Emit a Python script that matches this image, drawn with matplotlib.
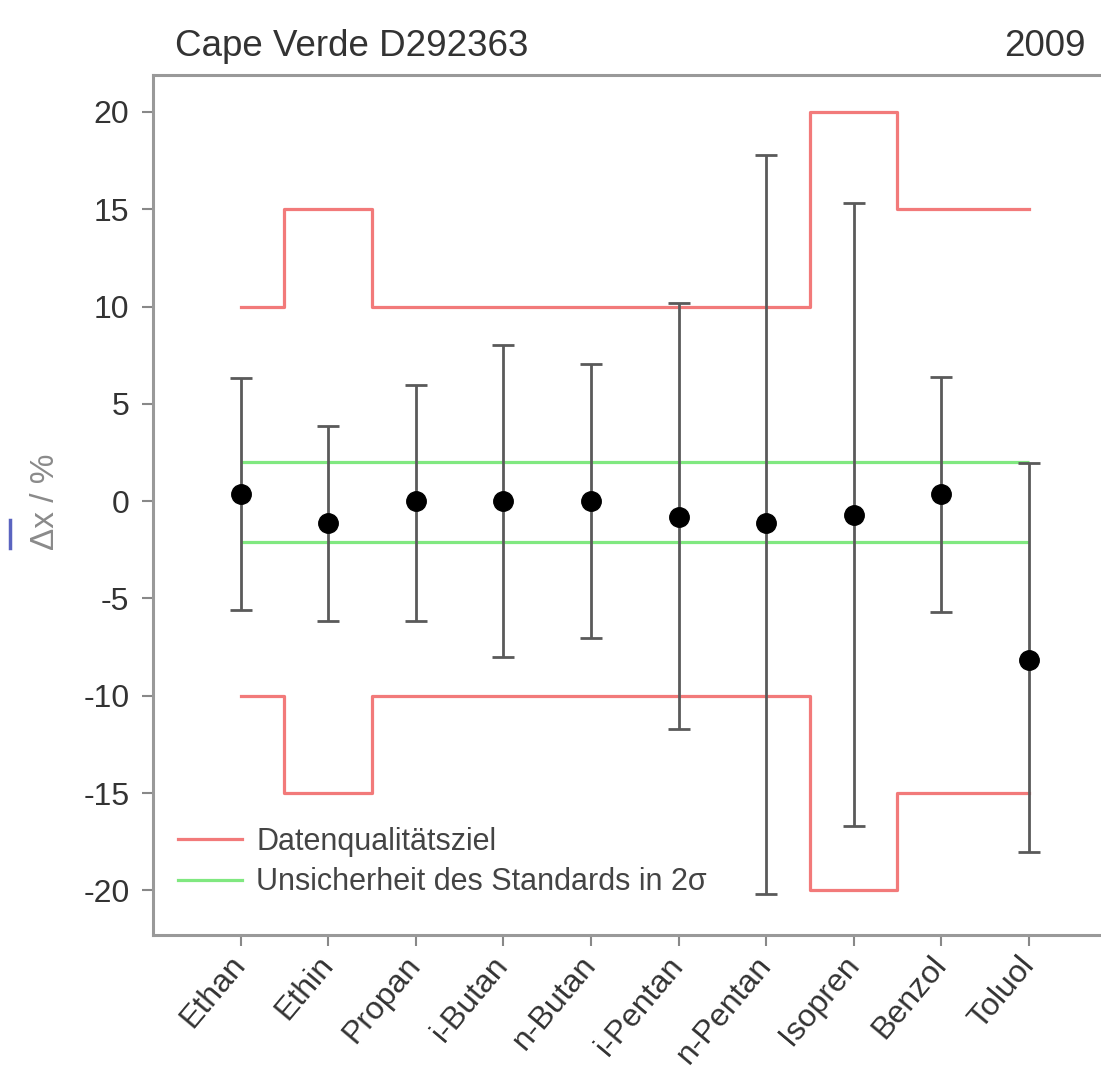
import numpy as np
import matplotlib
matplotlib.use("Agg")
import matplotlib.pyplot as plt
from matplotlib.lines import Line2D
import matplotlib.transforms as mtransforms

compounds = ["Ethan", "Ethin", "Propan", "i-Butan", "n-Butan",
             "i-Pentan", "n-Pentan", "Isopren", "Benzol", "Toluol"]
deviation = [0.35, -1.1, 0.0, 0.0, 0.0, -0.8, -1.1, -0.7, 0.35, -8.15]
err_top = [6.35, 3.85, 5.95, 8.05, 7.05, 10.2, 17.8, 15.3, 6.4, 1.95]
err_bottom = [-5.6, -6.15, -6.15, -8.0, -7.05, -11.7, -20.2, -16.7, -5.7, -18.05]

# data quality objective per compound (+/-)
dq_goal = [10, 15, 10, 10, 10, 10, 10, 20, 15, 15]
# uncertainty of the standard (2 sigma)
unc_upper = 2.0
unc_lower = -2.1

plt.rcParams['font.family'] = ['Liberation Sans', 'DejaVu Sans']
plt.rcParams['axes.unicode_minus'] = False

fig = plt.figure(figsize=(11.01, 10.81), dpi=100)
ax = fig.add_axes([0.139, 0.135, 0.871, 0.7956])

x = np.arange(len(compounds))
red = '#f27a7a'
green = '#80e880'

goal = np.array(dq_goal)
ax.step(x, goal, where='mid', color=red, lw=2.3, label='Datenqualitätsziel')
ax.step(x, -goal, where='mid', color=red, lw=2.3)

ax.hlines([unc_upper, unc_lower], x[0], x[-1], color=green, lw=2.3)
ax.plot([], [], color=green, lw=2.3, label='Unsicherheit des Standards in 2σ')

dev = np.array(deviation)
yerr = [dev - np.array(err_bottom), np.array(err_top) - dev]
ax.errorbar(x, dev, yerr=yerr, fmt='o', color='black', ms=14,
            ecolor='#5a5a5a', elinewidth=2.0, capsize=8, capthick=2.0, zorder=5)

ax.set_xlim(-1.0, 9.95)
ax.set_ylim(-22.3, 21.9)
ax.set_yticks([-20, -15, -10, -5, 0, 5, 10, 15, 20])
ax.set_xticks(x)
ax.set_xticklabels(compounds, rotation=50, ha='right', va='center',
                   rotation_mode='anchor', fontsize=23)
offset = mtransforms.ScaledTranslation(12 / 72, -14 / 72, fig.dpi_scale_trans)
for lab in ax.get_xticklabels():
    lab.set_transform(lab.get_transform() + offset)

ax.tick_params(axis='both', direction='out', length=8, width=1.5,
               color='#888888', labelcolor='#333333')
ax.tick_params(axis='y', pad=9, labelsize=23)
ax.tick_params(axis='x', pad=10)
for side in ['left', 'bottom', 'top']:
    ax.spines[side].set_color('#999999')
    ax.spines[side].set_linewidth(2.2)
ax.spines['right'].set_visible(False)

fig.text(45 / 1101, 1 - 502 / 1081, 'Δx / %', rotation=90, ha='center',
         va='center', fontsize=24, color='#8a8a8a')

fig.text(175 / 1101, 1 - 56 / 1081, 'Cape Verde D292363', fontsize=26.5,
         color='#333333', va='baseline', ha='left')
fig.text(1086 / 1101, 1 - 56 / 1081, '2009', fontsize=26.5,
         color='#333333', va='baseline', ha='right')

fig.add_artist(Line2D([10 / 1101, 10 / 1101], [1 - 520 / 1081, 1 - 548 / 1081],
                      color='#5a64c0', lw=2.5))

leg = ax.legend(loc='lower left', bbox_to_anchor=(0.026, 0.044), frameon=False,
                fontsize=22, handlelength=2.1, handletextpad=0.46,
                labelspacing=0.33, borderaxespad=0, borderpad=0)
for t in leg.get_texts():
    t.set_color('#444444')

fig.savefig('out.png', dpi=100)
